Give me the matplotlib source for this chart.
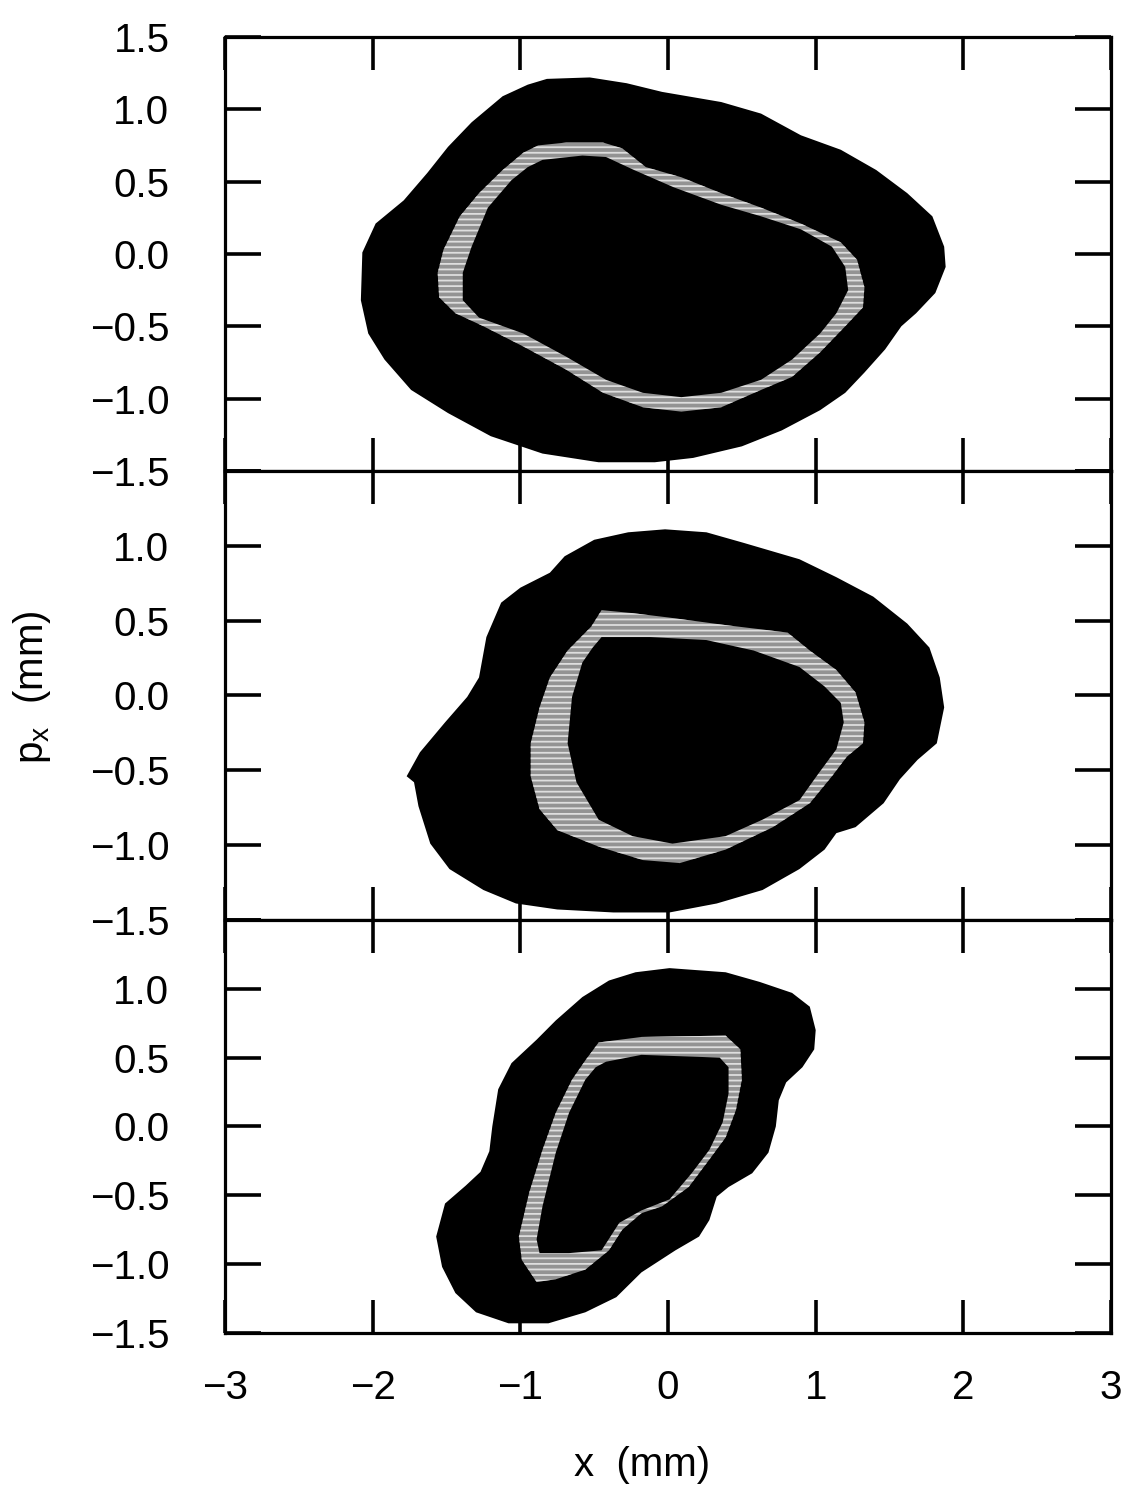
import numpy as np
import matplotlib.pyplot as plt
from matplotlib.ticker import FixedLocator, FuncFormatter

plt.rcParams['font.family'] = ['Liberation Sans', 'DejaVu Sans']
plt.rcParams['hatch.linewidth'] = 1.3

# Contours (x in mm, p_x in mm)
# top panel
top_outer_x = [-0.82, -0.53, -0.28, -0.04, 0.36, 0.63, 0.90, 1.17, 1.41, 1.62, 1.79, 1.87, 1.88,
               1.81, 1.68, 1.58, 1.47, 1.33, 1.20, 1.03, 0.77, 0.50, 0.17, -0.09, -0.47, -0.85,
               -1.20, -1.49, -1.74, -1.92, -2.03, -2.08, -2.07, -1.98, -1.79, -1.63, -1.49,
               -1.33, -1.12, -0.95]
top_outer_y = [1.21, 1.22, 1.18, 1.12, 1.05, 0.97, 0.82, 0.72, 0.58, 0.42, 0.26, 0.05, -0.09,
               -0.27, -0.41, -0.50, -0.66, -0.82, -0.96, -1.08, -1.22, -1.33, -1.41, -1.44,
               -1.44, -1.38, -1.26, -1.10, -0.94, -0.73, -0.55, -0.32, 0.01, 0.21, 0.37, 0.56,
               0.74, 0.91, 1.09, 1.17]
top_ring_x = [-0.88, -0.69, -0.44, -0.31, -0.15, 0.09, 0.36, 0.63, 0.90, 1.17, 1.28, 1.33, 1.32,
              1.20, 1.03, 0.84, 0.63, 0.36, 0.09, -0.17, -0.44, -0.69, -0.98, -1.25, -1.44,
              -1.55, -1.56, -1.52, -1.41, -1.28, -1.12, -0.98]
top_ring_y = [0.75, 0.77, 0.77, 0.73, 0.60, 0.53, 0.42, 0.32, 0.21, 0.08, -0.04, -0.23, -0.37,
              -0.50, -0.68, -0.85, -0.94, -1.06, -1.09, -1.06, -0.96, -0.80, -0.64, -0.50,
              -0.41, -0.30, -0.13, 0.03, 0.26, 0.42, 0.58, 0.70]
top_core_x = [-0.85, -0.58, -0.42, -0.23, 0.04, 0.36, 0.63, 0.90, 1.11, 1.20, 1.22, 1.14, 1.03,
              0.84, 0.63, 0.36, 0.09, -0.17, -0.42, -0.69, -0.98, -1.28, -1.39, -1.39, -1.33,
              -1.22, -1.06, -0.95]
top_core_y = [0.65, 0.68, 0.67, 0.58, 0.46, 0.34, 0.26, 0.17, 0.05, -0.09, -0.25, -0.41, -0.55,
              -0.73, -0.87, -0.96, -0.99, -0.96, -0.87, -0.71, -0.55, -0.44, -0.32, -0.13,
              0.05, 0.32, 0.51, 0.60]

# middle panel
mid_outer_x = [-0.02, 0.26, 0.51, 0.89, 1.14, 1.39, 1.62, 1.77, 1.84, 1.87, 1.82, 1.69, 1.57,
               1.46, 1.27, 1.14, 1.06, 0.89, 0.64, 0.33, 0.01, -0.37, -0.75, -1.03, -1.25,
               -1.48, -1.61, -1.69, -1.72, -1.77, -1.68, -1.51, -1.36, -1.28, -1.23, -1.13,
               -1.00, -0.80, -0.70, -0.50, -0.27]
mid_outer_y = [1.11, 1.09, 1.02, 0.91, 0.79, 0.66, 0.48, 0.32, 0.12, -0.08, -0.32, -0.43, -0.56,
               -0.72, -0.88, -0.92, -1.03, -1.16, -1.30, -1.39, -1.45, -1.45, -1.43, -1.39,
               -1.30, -1.16, -0.99, -0.74, -0.58, -0.54, -0.38, -0.18, -0.01, 0.12, 0.39, 0.62,
               0.72, 0.82, 0.93, 1.04, 1.09]
mid_ring_x = [-0.45, -0.24, 0.01, 0.39, 0.81, 0.96, 1.14, 1.27, 1.33, 1.32, 1.21, 1.11, 0.96,
              0.71, 0.39, 0.08, -0.17, -0.47, -0.75, -0.87, -0.93, -0.93, -0.87, -0.80, -0.68,
              -0.52]
mid_ring_y = [0.57, 0.55, 0.52, 0.47, 0.42, 0.30, 0.17, 0.02, -0.18, -0.32, -0.41, -0.54, -0.72,
              -0.88, -1.03, -1.12, -1.10, -1.01, -0.90, -0.76, -0.54, -0.32, -0.08, 0.12, 0.30,
              0.46]
mid_core_x = [-0.45, -0.12, 0.26, 0.58, 0.89, 1.06, 1.17, 1.19, 1.14, 1.02, 0.89, 0.64, 0.39,
              0.03, -0.24, -0.47, -0.62, -0.68, -0.65, -0.58, -0.51]
mid_core_y = [0.39, 0.39, 0.37, 0.30, 0.19, 0.06, -0.05, -0.18, -0.36, -0.52, -0.70, -0.83,
              -0.94, -0.99, -0.94, -0.83, -0.58, -0.32, -0.01, 0.22, 0.32]

# bottom panel
bot_outer_x = [0.01, 0.39, 0.62, 0.84, 0.96, 1.00, 0.99, 0.91, 0.80, 0.75, 0.73, 0.68, 0.57,
               0.41, 0.33, 0.28, 0.21, 0.05, -0.18, -0.35, -0.56, -0.81, -1.08, -1.30, -1.44,
               -1.53, -1.57, -1.51, -1.37, -1.27, -1.21, -1.19, -1.15, -1.06, -0.89, -0.76,
               -0.58, -0.40, -0.22]
bot_outer_y = [1.15, 1.12, 1.05, 0.97, 0.87, 0.70, 0.56, 0.43, 0.32, 0.19, 0.00, -0.19, -0.34,
               -0.44, -0.51, -0.68, -0.80, -0.90, -1.06, -1.24, -1.35, -1.43, -1.43, -1.35,
               -1.21, -1.02, -0.80, -0.56, -0.43, -0.33, -0.18, 0.00, 0.27, 0.46, 0.63, 0.77,
               0.94, 1.06, 1.12]
bot_ring_x = [-0.47, -0.18, 0.39, 0.49, 0.50, 0.46, 0.39, 0.28, 0.14, -0.04, -0.18, -0.31, -0.40,
              -0.56, -0.76, -0.89, -0.99, -1.01, -0.94, -0.85, -0.76, -0.65, -0.56]
bot_ring_y = [0.61, 0.65, 0.66, 0.56, 0.34, 0.12, -0.08, -0.24, -0.44, -0.58, -0.63, -0.75,
              -0.90, -1.04, -1.11, -1.13, -0.97, -0.80, -0.48, -0.17, 0.10, 0.34, 0.48]
bot_core_x = [-0.42, -0.18, 0.35, 0.41, 0.41, 0.37, 0.28, 0.16, 0.01, -0.18, -0.33, -0.45,
              -0.67, -0.87, -0.89, -0.85, -0.76, -0.67, -0.56, -0.49]
bot_core_y = [0.47, 0.52, 0.50, 0.43, 0.24, 0.03, -0.17, -0.34, -0.53, -0.61, -0.70, -0.90,
              -0.92, -0.92, -0.82, -0.58, -0.19, 0.10, 0.34, 0.43]

panels = [
    (top_outer_x, top_outer_y, top_ring_x, top_ring_y, top_core_x, top_core_y),
    (mid_outer_x, mid_outer_y, mid_ring_x, mid_ring_y, mid_core_x, mid_core_y),
    (bot_outer_x, bot_outer_y, bot_ring_x, bot_ring_y, bot_core_x, bot_core_y),
]

x_ticks = [-3, -2, -1, 0, 1, 2, 3]
y_ticks = [-1.5, -1.0, -0.5, 0.0, 0.5, 1.0, 1.5]

fig = plt.figure(figsize=(11.25, 14.89), dpi=100)
gs = fig.add_gridspec(3, 1, height_ratios=[434, 449, 413], hspace=0,
                      left=0.2, right=0.9876, top=0.9752, bottom=0.1048)

fmt_y = FuncFormatter(lambda v, p: f'{v:.1f}'.replace('-', '\u2212'))
fmt_x = FuncFormatter(lambda v, p: f'{v:.0f}'.replace('-', '\u2212'))

for i, (ox, oy, rx, ry, cx, cy) in enumerate(panels):
    ax = fig.add_subplot(gs[i])
    ax.fill(ox, oy, color='black', lw=0)
    ax.fill(rx, ry, facecolor='#939393', edgecolor='#dedede', hatch='---', lw=0)
    ax.fill(cx, cy, color='black', lw=0)

    ax.set_xlim(-3, 3)
    ax.set_ylim(-1.5, 1.5)
    ax.xaxis.set_major_locator(FixedLocator(x_ticks))
    ax.yaxis.set_major_locator(FixedLocator(y_ticks))
    ax.yaxis.set_major_formatter(fmt_y)
    ax.xaxis.set_major_formatter(fmt_x)
    for s in ax.spines.values():
        s.set_linewidth(2.3)
    ax.tick_params(axis='x', direction='in', length=24, width=2.6, top=True, bottom=True,
                   labelsize=29, pad=26, labelbottom=(i == 2))
    ax.tick_params(axis='y', direction='in', length=26, width=2.6, left=True, right=True,
                   labelsize=29, pad=40)
    if i > 0:
        ax.yaxis.get_major_ticks()[-1].label1.set_visible(False)

fig.text(642 / 1125, 1 - 1465 / 1489, 'x  (mm)', ha='center', va='center', fontsize=29)
fig.text(32 / 1125, 1 - 687 / 1489, r'$\mathregular{p_x}$  (mm)', ha='center', va='center',
         fontsize=29, rotation=90)

plt.savefig('out.png', dpi=100)
plt.close()
